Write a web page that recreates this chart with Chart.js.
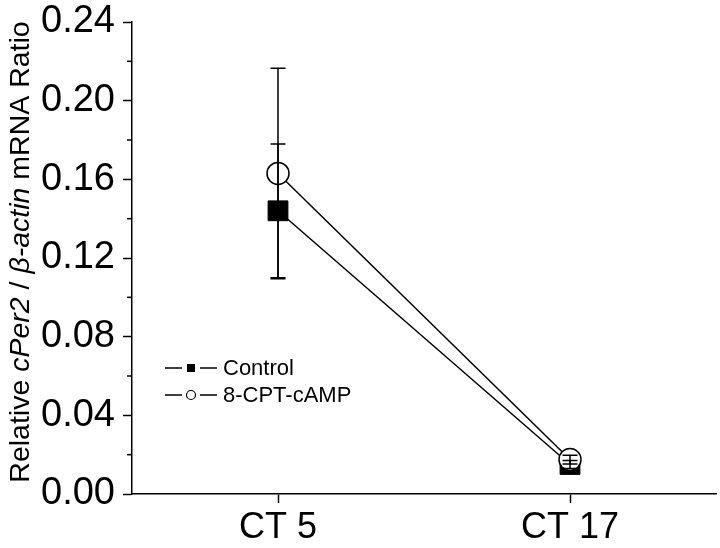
<!DOCTYPE html>
<html>
<head>
<meta charset="utf-8">
<script src="https://cdn.jsdelivr.net/npm/chart.js@4"></script>
<style>
  html, body { margin: 0; padding: 0; background: #fff; overflow: hidden; }
  canvas { display: block; }
</style>
</head>
<body>
<canvas id="chart" width="720" height="548"></canvas>
<script>
// Data
const categories = ['CT 5', 'CT 17'];
const controlMean = [0.144, 0.0150];
const controlErr = [0.034, 0.0020];
const campMean = [0.163, 0.0175];
const campErr = [0.0535, 0.0022];
const yTicks = [0, 0.04, 0.08, 0.12, 0.16, 0.20, 0.24];
const yMinorTicks = [0.02, 0.06, 0.10, 0.14, 0.18, 0.22];
const legendLabels = ['Control', '8-CPT-cAMP'];

const FONT = '"Liberation Sans", Arial, Helvetica, sans-serif';

// error bars drawn on top of the markers
const errorBars = {
  id: 'errorBars',
  afterDatasetsDraw(chart) {
    const ctx = chart.ctx;
    const x = chart.scales.x, y = chart.scales.y;
    const sets = [[controlMean, controlErr], [campMean, campErr]];
    ctx.save();
    ctx.strokeStyle = '#000';
    ctx.lineWidth = 1.5;
    sets.forEach(([mean, err]) => {
      mean.forEach((m, i) => {
        const px = x.getPixelForValue(i);
        const top = y.getPixelForValue(m + err[i]);
        const bot = y.getPixelForValue(m - err[i]);
        ctx.beginPath();
        ctx.moveTo(px, top); ctx.lineTo(px, bot);
        ctx.moveTo(px - 7.5, top); ctx.lineTo(px + 7.5, top);
        ctx.moveTo(px - 7.5, bot); ctx.lineTo(px + 7.5, bot);
        ctx.stroke();
      });
    });
    ctx.restore();
  }
};

// minor ticks, y title with italics, legend
const extras = {
  id: 'extras',
  afterDraw(chart) {
    const ctx = chart.ctx;
    const y = chart.scales.y;
    const area = chart.chartArea;
    ctx.save();
    ctx.strokeStyle = '#000';
    ctx.lineWidth = 1.5;
    yMinorTicks.forEach(v => {
      const py = y.getPixelForValue(v);
      ctx.beginPath();
      ctx.moveTo(area.left - 5, py);
      ctx.lineTo(area.left, py);
      ctx.stroke();
    });

    // y axis title
    const parts = [['Relative ', false], ['cPer2', true], [' / ', false], ['\u03B2-actin', true], [' mRNA Ratio', false]];
    const size = 28.5;
    let total = 0;
    parts.forEach(p => {
      ctx.font = (p[1] ? 'italic ' : '') + size + 'px ' + FONT;
      total += ctx.measureText(p[0]).width;
    });
    ctx.translate(29, 252);
    ctx.rotate(-Math.PI / 2);
    ctx.fillStyle = '#000';
    ctx.textBaseline = 'alphabetic';
    let cx = -total / 2;
    parts.forEach(p => {
      ctx.font = (p[1] ? 'italic ' : '') + size + 'px ' + FONT;
      ctx.fillText(p[0], cx, 0);
      cx += ctx.measureText(p[0]).width;
    });
    ctx.setTransform(1, 0, 0, 1, 0, 0);

    // legend
    const rows = [368, 395];
    ctx.font = '22px ' + FONT;
    ctx.textBaseline = 'middle';
    rows.forEach((ry, i) => {
      ctx.beginPath();
      ctx.moveTo(165, ry); ctx.lineTo(182, ry);
      ctx.moveTo(200, ry); ctx.lineTo(217, ry);
      ctx.stroke();
      if (i === 0) {
        ctx.fillStyle = '#000';
        ctx.fillRect(187, ry - 4, 8, 8);
      } else {
        ctx.beginPath();
        ctx.arc(191, ry, 4.5, 0, Math.PI * 2);
        ctx.fillStyle = '#fff';
        ctx.fill();
        ctx.lineWidth = 1.2;
        ctx.stroke();
        ctx.lineWidth = 1.5;
      }
      ctx.fillStyle = '#000';
      ctx.fillText(legendLabels[i], 223, ry + 1);
    });
    ctx.restore();
  }
};

function zeroPad(s) {
  s.paddingTop = 0; s.paddingBottom = 0; s.paddingLeft = 0; s.paddingRight = 0;
}

new Chart(document.getElementById('chart'), {
  type: 'line',
  data: {
    labels: categories,
    datasets: [
      {
        label: legendLabels[0],
        data: controlMean,
        borderColor: '#000',
        borderWidth: 1.5,
        pointStyle: 'rect',
        pointRadius: 14,
        pointBackgroundColor: '#000',
        pointBorderColor: '#000',
        pointBorderWidth: 1,
        clip: false,
        order: 2
      },
      {
        label: legendLabels[1],
        data: campMean,
        borderColor: '#000',
        borderWidth: 1.5,
        pointStyle: 'circle',
        pointRadius: 11,
        pointBackgroundColor: '#fff',
        pointBorderColor: '#000',
        pointBorderWidth: 1.5,
        clip: false,
        order: 1
      }
    ]
  },
  options: {
    responsive: false,
    animation: false,
    devicePixelRatio: 1,
    layout: { autoPadding: false, padding: { top: 22, right: 4, left: 0, bottom: 0 } },
    plugins: { legend: { display: false }, tooltip: { enabled: false } },
    scales: {
      x: {
        type: 'category',
        offset: true,
        grid: { drawOnChartArea: false, tickLength: 9, tickColor: '#000', tickWidth: 1.5 },
        border: { color: '#000', width: 1.5 },
        ticks: { color: '#000', font: { family: FONT, size: 36 }, padding: 3, maxRotation: 0 },
        afterFit: s => { s.height = 54; zeroPad(s); }
      },
      y: {
        min: 0,
        max: 0.24,
        afterBuildTicks: s => { s.ticks = yTicks.map(v => ({ value: v })); },
        grid: { drawOnChartArea: false, tickLength: 9, tickColor: '#000', tickWidth: 1.5 },
        border: { color: '#000', width: 1.5 },
        ticks: { color: '#000', font: { family: FONT, size: 38 }, padding: 8, callback: v => v.toFixed(2) },
        afterFit: s => { s.width = 132; zeroPad(s); }
      }
    }
  },
  plugins: [errorBars, extras]
});
</script>
</body>
</html>
